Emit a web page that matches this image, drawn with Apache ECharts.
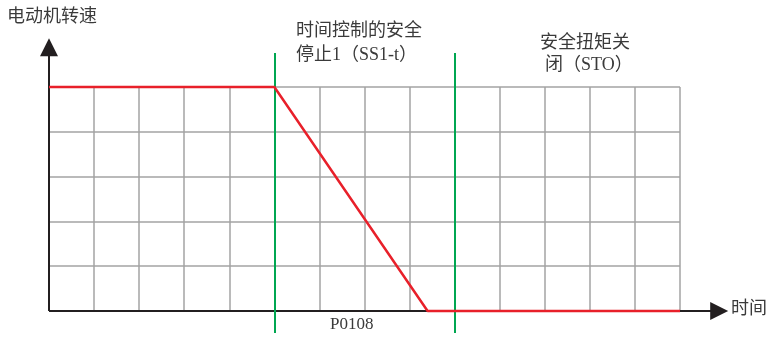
<!DOCTYPE html>
<html><head><meta charset="utf-8">
<script src="https://cdn.jsdelivr.net/npm/echarts@6/dist/echarts.min.js"></script>
<style>html,body{margin:0;padding:0;background:#fff}#c{width:768px;height:337px}</style>
</head><body><div id="c"></div>
<script>
// Data
const speedX = [0, 5, 8.4, 14];
const speedY = [5, 5, 0, 0];
const phaseX = [5, 9];               // green phase boundaries
const phaseYRange = [-0.49, 5.76];
const xAxisEnd = 14.87;              // time axis end (arrow centre)
const yAxisEnd = 5.89;               // speed axis end (arrow centre)
const yLabel = '电动机转速';
const xLabel = '时间';
const phase1Lines = ['时间控制的安全', '停止1（SS1-t）'];
const phase2Lines = ['安全扭矩关', '闭（STO）'];
const paramLabel = 'P0108';

const chart = echarts.init(document.getElementById('c'));
const font = '"Liberation Serif", "Noto Sans CJK SC", serif';
const txt = (text, left, top, size) => ({
  type: 'text', left, top,
  style: { text, fill: '#3a3a3a', font: (size || 18) + 'px ' + font }
});

chart.setOption({
  animation: false,
  grid: { left: 49, right: 88, top: 87, bottom: 26 },
  xAxis: {
    type: 'value', min: 0, max: 14, interval: 1,
    axisLine: { show: false }, axisTick: { show: false }, axisLabel: { show: false },
    splitLine: { show: true, lineStyle: { color: '#a3a3a3', width: 1.5 } }
  },
  yAxis: {
    type: 'value', min: 0, max: 5, interval: 1,
    axisLine: { show: false }, axisTick: { show: false }, axisLabel: { show: false },
    splitLine: { show: true, lineStyle: { color: '#a3a3a3', width: 1.5 } }
  },
  series: [
    {
      type: 'lines', coordinateSystem: 'cartesian2d', clip: false, z: 3,
      symbol: ['none', 'triangle'], symbolSize: [13, 18],
      lineStyle: { color: '#231f20', width: 2, opacity: 1 },
      data: [
        { coords: [[0, 0], [xAxisEnd, 0]] },
        { coords: [[0, 0], [0, yAxisEnd]] }
      ]
    },
    {
      type: 'lines', coordinateSystem: 'cartesian2d', clip: false, z: 4,
      lineStyle: { color: '#00a651', width: 2, opacity: 1 },
      data: phaseX.map(x => ({ coords: [[x, phaseYRange[0]], [x, phaseYRange[1]]] }))
    },
    {
      type: 'line', z: 5, symbol: 'none', clip: false,
      lineStyle: { color: '#e8202a', width: 2.5 },
      data: speedX.map((x, i) => [x, speedY[i]])
    }
  ],
  graphic: [
    txt(yLabel, 7, 8),
    txt(phase1Lines[0], 296, 22),
    txt(phase1Lines[1], 296, 46),
    txt(phase2Lines[0], 540, 34),
    txt(phase2Lines[1], 545, 56),
    txt(paramLabel, 330, 316, 17),
    txt(xLabel, 731, 300)
  ]
});
</script></body></html>
